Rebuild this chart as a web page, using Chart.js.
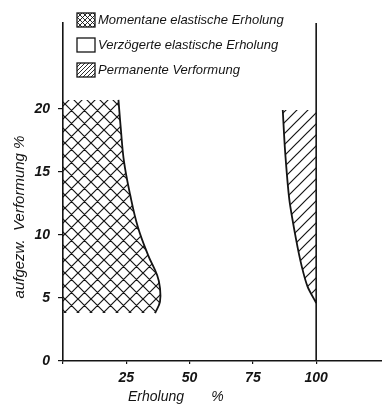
<!DOCTYPE html>
<html>
<head>
<meta charset="utf-8">
<script src="https://cdn.jsdelivr.net/npm/chart.js@4/dist/chart.umd.min.js"></script>
<style>
  html, body { margin: 0; padding: 0; background: #fff; }
  canvas { display: block; }
</style>
</head>
<body>
<canvas id="c" width="382" height="407"></canvas>
<script>
// Erholung (x, %) vs. aufgezwungene Verformung (y, %)
const momentanY = [20.7, 18.5, 15.8, 13.2, 10.6, 8.4, 6.8, 5.8, 4.7, 3.8];
const momentanX = [21.9, 22.8, 24.1, 26.5, 29.6, 33.6, 37.2, 38.3, 38.3, 36.4];
const permanentY = [19.9, 16.7, 12.8, 9.6, 7.5, 5.9, 4.6];
const permanentX = [86.8, 87.7, 89.4, 92.1, 94.3, 96.6, 100];
const xTicks = [0, 25, 50, 75, 100];
const yTicks = [0, 5, 10, 15, 20];
const xMax = 126;
const yMax = 26.8;

const labels = [
    "Momentane elastische Erholung",
    "Verzögerte elastische Erholung",
    "Permanente Verformung",
];

const ink = "#141414";
const canvas = document.getElementById("c");
const ctx = canvas.getContext("2d");

// hatch tile: "/" lines, optionally crossed with "\"
function hatch(size, crossed, lw) {
    const t = document.createElement("canvas");
    t.width = t.height = size;
    const g = t.getContext("2d");
    g.strokeStyle = ink;
    g.lineWidth = lw;
    g.beginPath();
    g.moveTo(-1, size + 1); g.lineTo(size + 1, -1);
    g.moveTo(-1, 1); g.lineTo(1, -1);
    g.moveTo(size - 1, size + 1); g.lineTo(size + 1, size - 1);
    if (crossed) {
        g.moveTo(-1, -1); g.lineTo(size + 1, size + 1);
        g.moveTo(size - 1, -1); g.lineTo(size + 1, 1);
        g.moveTo(-1, size - 1); g.lineTo(1, size + 1);
    }
    g.stroke();
    return ctx.createPattern(t, "repeat");
}

const pts = (xs, ys) => xs.map((x, i) => ({ x: x, y: ys[i] }));

const legendBoxes = {
    id: "legendBoxes",
    afterDraw(chart) {
        const c = chart.ctx;
        c.save();
        c.font = "italic 13px 'Liberation Sans'";
        c.textBaseline = "middle";
        let top = 13;
        chart.data.datasets.forEach((ds) => {
            if (!ds.legendFill) return;
            c.fillStyle = ds.legendFill;
            c.fillRect(77, top, 18, 14);
            c.strokeStyle = ink;
            c.lineWidth = 1.3;
            c.strokeRect(77, top, 18, 14);
            c.fillStyle = ink;
            c.fillText(ds.label, 98, top + 7);
            top += 25;
        });
        c.restore();
    },
};

const tickFont = { family: "'Liberation Sans'", size: 14, style: "italic", weight: "bold" };

new Chart(canvas, {
    type: "line",
    data: {
        datasets: [
            {
                label: labels[0],
                data: pts(momentanX, momentanY),
                fill: "origin",
                backgroundColor: hatch(13, true, 1.2),
                legendFill: hatch(5, true, 0.9),
                borderColor: ink,
                borderWidth: 1.8,
                tension: 0.4,
                pointRadius: 0,
            },
            {
                label: labels[1],
                data: [],
                legendFill: "#fff",
                pointRadius: 0,
            },
            {
                label: labels[2],
                data: pts(permanentX, permanentY),
                fill: { value: 100 },
                backgroundColor: hatch(11, false, 1.2),
                legendFill: hatch(4, false, 0.9),
                borderColor: ink,
                borderWidth: 1.8,
                tension: 0.25,
                pointRadius: 0,
            },
            {
                label: "",
                data: [{ x: 100, y: 0 }, { x: 100, y: yMax }],
                borderColor: ink,
                borderWidth: 1.6,
                pointRadius: 0,
                fill: false,
            },
        ],
    },
    options: {
        responsive: false,
        animation: false,
        indexAxis: "y",
        layout: { padding: { top: 23, right: 0, left: 0, bottom: 0 } },
        plugins: {
            legend: { display: false },
            tooltip: { enabled: false },
        },
        scales: {
            x: {
                type: "linear",
                min: 0,
                max: xMax,
                afterBuildTicks: (s) => { s.ticks = xTicks.map((v) => ({ value: v })); },
                afterFit: (s) => { s.height = 46; },
                grid: { drawOnChartArea: false, tickLength: 3, color: ink, lineWidth: 1.2 },
                border: { color: ink, width: 1.6 },
                ticks: {
                    color: ink,
                    font: tickFont,
                    padding: 6,
                    maxRotation: 0,
                    callback: (v) => (v === 0 ? "" : v),
                },
                title: {
                    display: true,
                    text: "Erholung       %                        ",
                    color: ink,
                    font: { family: "'Liberation Sans'", size: 14, style: "italic" },
                    padding: { top: 0, bottom: 1 },
                },
            },
            y: {
                type: "linear",
                min: 0,
                max: yMax,
                afterBuildTicks: (s) => { s.ticks = yTicks.map((v) => ({ value: v })); },
                afterFit: (s) => { s.width = 63; },
                grid: { drawOnChartArea: false, tickLength: 5, color: ink, lineWidth: 1.2 },
                border: { color: ink, width: 1.6 },
                ticks: { color: ink, font: tickFont, padding: 8 },
                title: {
                    display: true,
                    text: "aufgezw.  Verformung %            ",
                    color: ink,
                    font: { family: "'Liberation Sans'", size: 15, style: "italic" },
                    padding: { top: 11, bottom: 0 },
                },
            },
        },
    },
    plugins: [legendBoxes],
});
</script>
</body>
</html>
